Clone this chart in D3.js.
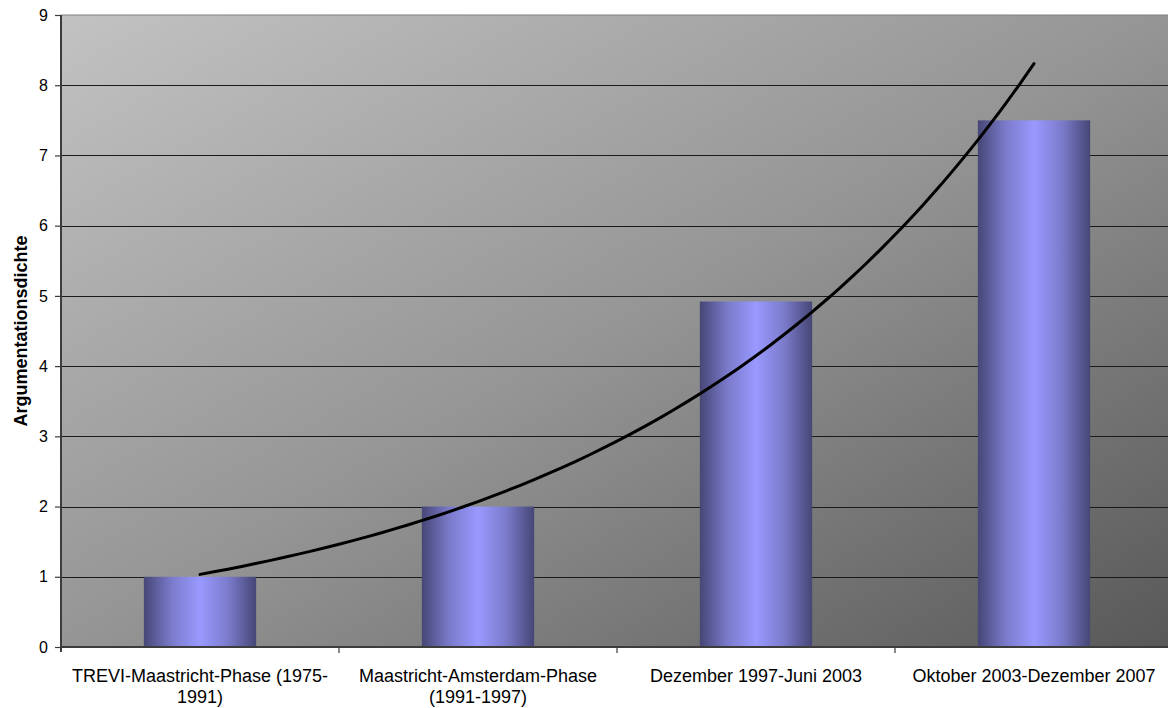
<!DOCTYPE html>
<html>
<head>
<meta charset="utf-8">
<script src="https://cdn.jsdelivr.net/npm/d3@7"></script>
<style>
  html, body { margin: 0; padding: 0; background: #ffffff; }
  svg { display: block; font-family: "Liberation Sans", Arial, sans-serif; }
</style>
</head>
<body>
<svg id="chart" width="1168" height="708"></svg>
<script>
// Argumentationsdichte per phase
const categories = [
  "TREVI-Maastricht-Phase (1975-1991)",
  "Maastricht-Amsterdam-Phase (1991-1997)",
  "Dezember 1997-Juni 2003",
  "Oktober 2003-Dezember 2007"
];
const categoryLines = [
  ["TREVI-Maastricht-Phase (1975-", "1991)"],
  ["Maastricht-Amsterdam-Phase", "(1991-1997)"],
  ["Dezember 1997-Juni 2003"],
  ["Oktober 2003-Dezember 2007"]
];
const values = [1, 2, 4.92, 7.5];
const yTicks = [0, 1, 2, 3, 4, 5, 6, 7, 8, 9];
const yTitle = "Argumentationsdichte";

const svg = d3.select("#chart");
const margin = { left: 61, top: 15 };
const plotW = 1112, plotH = 632;

const x = d3.scaleBand().domain(categories).range([0, plotW]).padding(0);
const y = d3.scaleLinear().domain([0, 9]).range([plotH, 0]);
const barFrac = 0.404;

const defs = svg.append("defs");
const bg = defs.append("linearGradient").attr("id", "bgGrad")
  .attr("x1", 0).attr("y1", 0).attr("x2", 1).attr("y2", 1);
bg.append("stop").attr("offset", 0).attr("stop-color", "#c2c2c2");
bg.append("stop").attr("offset", 0.5).attr("stop-color", "#959595");
bg.append("stop").attr("offset", 1).attr("stop-color", "#585858");

const barGrad = defs.append("linearGradient").attr("id", "barGrad")
  .attr("x1", 0).attr("y1", 0).attr("x2", 1).attr("y2", 0);
[[0, "#464676"], [0.25, "#7b7bcc"], [0.5, "#9999ff"], [0.75, "#7b7bcc"], [1, "#464676"]]
  .forEach(([o, c]) => barGrad.append("stop").attr("offset", o).attr("stop-color", c));

const g = svg.append("g").attr("transform", `translate(${margin.left},${margin.top})`);

// plot background
g.append("rect").attr("x", 0).attr("y", 0).attr("width", plotW).attr("height", plotH)
  .attr("fill", "url(#bgGrad)");

// top border of the plot area
g.append("line").attr("x1", 0).attr("x2", plotW).attr("y1", y(9)).attr("y2", y(9))
  .attr("stroke", "#808080").attr("stroke-width", 1.2);

// horizontal gridlines
g.append("g").selectAll("line").data(yTicks.filter(t => t > 0 && t < 9)).join("line")
  .attr("x1", 0).attr("x2", plotW)
  .attr("y1", d => Math.round(y(d)) + 0.5).attr("y2", d => Math.round(y(d)) + 0.5)
  .attr("stroke", "#1a1a1a").attr("stroke-width", 1.1);

// bars
g.append("g").selectAll("rect").data(values).join("rect")
  .attr("x", (d, i) => x(categories[i]) + x.bandwidth() * (1 - barFrac) / 2)
  .attr("width", x.bandwidth() * barFrac)
  .attr("y", d => y(d))
  .attr("height", d => y(0) - y(d))
  .attr("fill", "url(#barGrad)");

// exponential trendline (least squares on ln values)
const n = values.length;
const xs = values.map((d, i) => i + 1);
const ls = values.map(d => Math.log(d));
const mx = d3.mean(xs), ml = d3.mean(ls);
const b = d3.sum(xs.map((v, i) => (v - mx) * (ls[i] - ml))) / d3.sum(xs.map(v => (v - mx) ** 2));
const a = Math.exp(ml - b * mx);
const idx = d3.scaleLinear().domain([1, n])
  .range([x(categories[0]) + x.bandwidth() / 2, x(categories[n - 1]) + x.bandwidth() / 2]);
const trend = d3.range(1, n + 0.0001, 0.05).map(t => [idx(t), y(a * Math.exp(b * t))]);
g.append("path").datum(trend)
  .attr("d", d3.line().curve(d3.curveMonotoneX))
  .attr("fill", "none").attr("stroke", "#000").attr("stroke-width", 3)
  .attr("stroke-linecap", "round");

// y axis
const yAxis = g.append("g").call(d3.axisLeft(y).tickValues(yTicks).tickSize(6).tickPadding(7));
yAxis.select(".domain").attr("stroke", "#3c3c3c").attr("stroke-width", 2)
  .attr("d", `M0,0V${plotH + 5}`);
yAxis.selectAll(".tick line").attr("stroke", "#3c3c3c").attr("stroke-width", 1.2);
yAxis.selectAll(".tick text").attr("font-size", 16).attr("fill", "#000")
  .attr("font-family", "'Liberation Sans', Arial, sans-serif");

// x axis baseline and category separators
const xAxis = g.append("g").attr("transform", `translate(0,${plotH})`);
xAxis.append("line").attr("x1", 0).attr("x2", plotW).attr("y1", 0).attr("y2", 0)
  .attr("stroke", "#3c3c3c").attr("stroke-width", 2);
xAxis.selectAll("line.sep").data(categories.slice(1)).join("line").attr("class", "sep")
  .attr("x1", d => x(d)).attr("x2", d => x(d)).attr("y1", 0).attr("y2", 6)
  .attr("stroke", "#3c3c3c").attr("stroke-width", 1.2);

// category labels
const lab = xAxis.selectAll("text.cat").data(categories).join("text").attr("class", "cat")
  .attr("transform", d => `translate(${x(d) + x.bandwidth() / 2},0)`)
  .attr("text-anchor", "middle").attr("font-size", 18).attr("fill", "#000");
lab.selectAll("tspan").data((d, i) => categoryLines[i]).join("tspan")
  .attr("x", 0).attr("y", (d, i) => 35 + i * 21).text(d => d);

// y axis title
svg.append("text")
  .attr("transform", `translate(27,${margin.top + plotH / 2}) rotate(-90)`)
  .attr("text-anchor", "middle").attr("font-size", 18).attr("font-weight", "bold")
  .attr("fill", "#000").text(yTitle);
</script>
</body>
</html>
